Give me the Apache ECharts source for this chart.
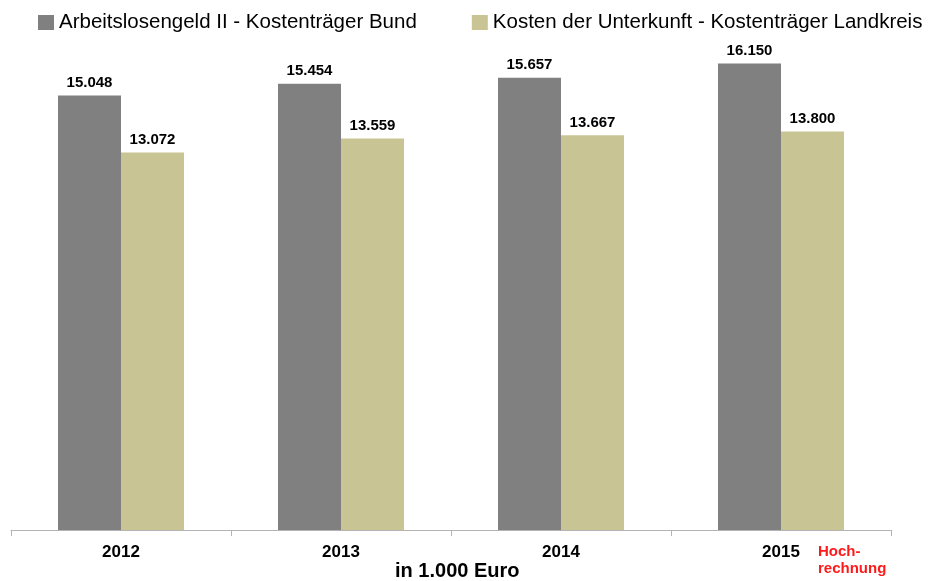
<!DOCTYPE html>
<html>
<head>
<meta charset="utf-8">
<script src="https://cdn.jsdelivr.net/npm/echarts@6/dist/echarts.min.js"></script>
<style>
  html, body { margin: 0; padding: 0; background: #fff; }
  #chart { width: 933px; height: 581px; }
</style>
</head>
<body>
<div id="chart"></div>
<script>
// Werte in 1.000 Euro
const years = ["2012", "2013", "2014", "2015"];
const bund = [15048, 15454, 15657, 16150];
const landkreis = [13072, 13559, 13667, 13800];

const fmt = (v) => {
  let s = String(v);
  return s.slice(0, s.length - 3) + "." + s.slice(-3);
};

let chart = echarts.init(document.getElementById("chart"));
let option = {
  animation: false,
  textStyle: { fontFamily: "Liberation Sans, Arial, sans-serif" },
  legend: {
    left: 33,
    top: 7,
    itemWidth: 16,
    itemHeight: 15,
    itemGap: 55,
    icon: "rect",
    textStyle: { fontSize: 20.5, color: "#000" },
  },
  grid: { left: 11, right: 42, top: 39, bottom: 51 },
  xAxis: {
    type: "category",
    data: years,
    axisLine: { lineStyle: { color: "#b4b4b4" } },
    axisTick: { show: true, length: 6, lineStyle: { color: "#b4b4b4" } },
    axisLabel: { fontSize: 17, fontWeight: "bold", color: "#000", margin: 14 },
  },
  yAxis: {
    type: "value",
    min: 0,
    max: 17000,
    show: false,
    splitLine: { show: false },
  },
  series: [
    {
      name: "Arbeitslosengeld II - Kostenträger Bund",
      type: "bar",
      data: bund,
      barWidth: 63,
      barGap: "0%",
      itemStyle: { color: "#808080" },
      label: {
        show: true,
        position: "top",
        distance: 5,
        fontSize: 15,
        fontWeight: "bold",
        color: "#000",
        formatter: (p) => fmt(p.value),
      },
    },
    {
      name: "Kosten der Unterkunft - Kostenträger Landkreis",
      type: "bar",
      data: landkreis,
      barWidth: 63,
      barGap: "0%",
      itemStyle: { color: "#c9c493" },
      label: {
        show: true,
        position: "top",
        distance: 5,
        fontSize: 15,
        fontWeight: "bold",
        color: "#000",
        formatter: (p) => fmt(p.value),
      },
    },
  ],
  graphic: [
    {
      type: "text",
      left: 395,
      top: 561,
      style: {
        text: "in 1.000 Euro",
        fontSize: 20,
        fontWeight: "bold",
        fill: "#000",
        fontFamily: "Liberation Sans, Arial, sans-serif",
      },
    },
    {
      type: "text",
      left: 818,
      top: 543,
      style: {
        text: "Hoch-\nrechnung",
        fontSize: 15,
        lineHeight: 17,
        fontWeight: "bold",
        fill: "#ff1a1a",
        fontFamily: "Liberation Sans, Arial, sans-serif",
      },
    },
  ],
};
chart.setOption(option);
</script>
</body>
</html>
